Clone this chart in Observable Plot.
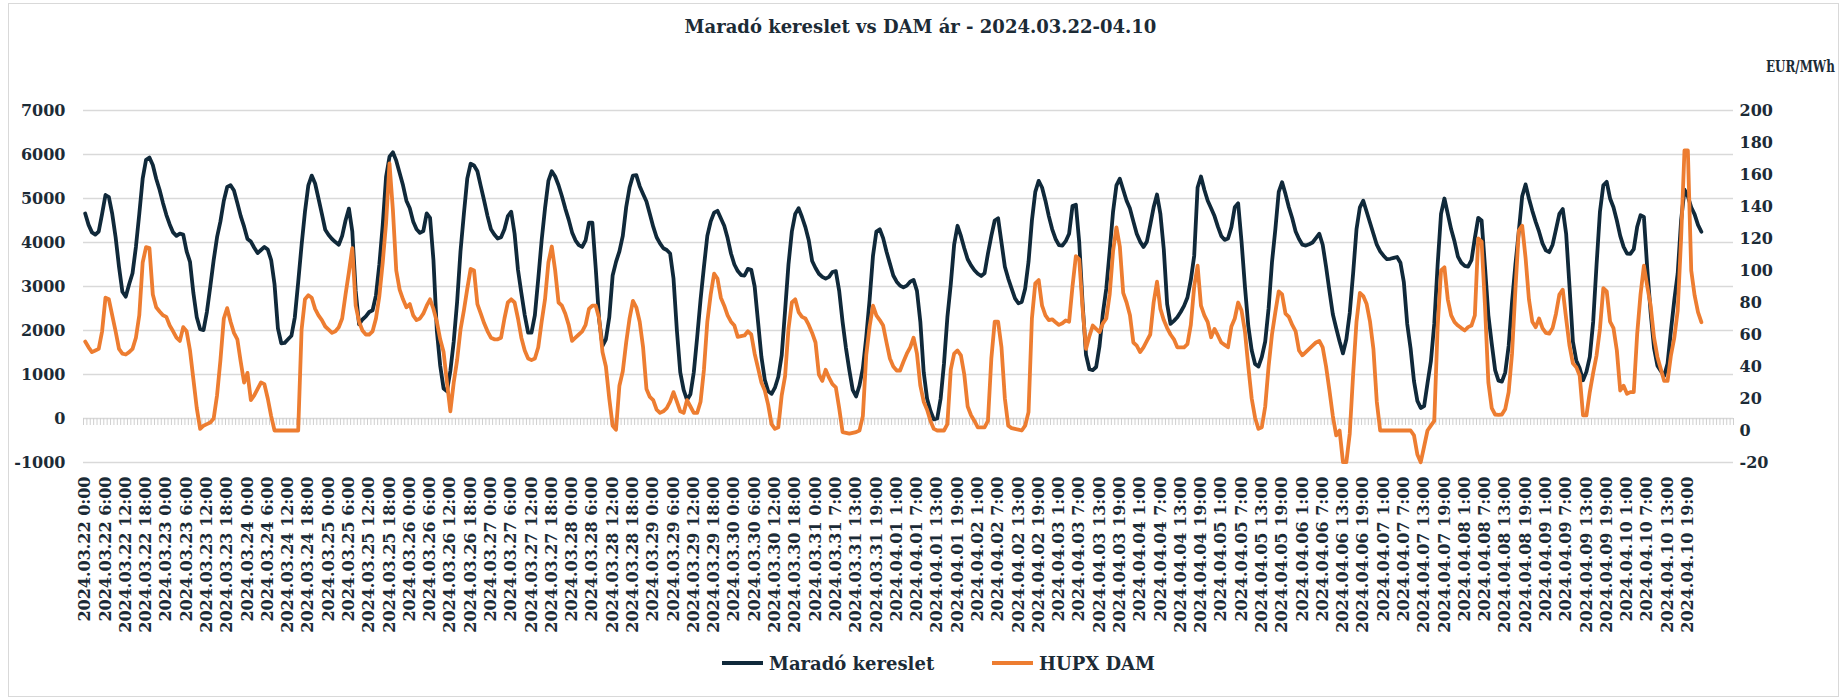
<!DOCTYPE html>
<html>
<head>
<meta charset="utf-8">
<script src="https://cdn.jsdelivr.net/npm/d3@7"></script>
<script src="https://cdn.jsdelivr.net/npm/@observablehq/plot@0.6"></script>
<style>
  html, body { margin: 0; padding: 0; background: #ffffff; }
  #wrap { position: relative; width: 1841px; height: 698px; overflow: hidden; font-family: "DejaVu Serif", serif; color: #1c2b36; }
  #frame { position: absolute; left: 8px; top: 3px; width: 1831px; height: 694px; border: 1px solid #d9d9d9; box-sizing: border-box; }
  #title { position: absolute; left: 0; top: 3px; width: 1841px; height: 47px; line-height: 47px; text-align: center; font-weight: bold; font-size: 18px; }
  #chart { position: absolute; left: 0; top: 48px; }
  #unit { position: absolute; left: 1766px; top: 56px; font-weight: bold; font-size: 17px; line-height: 20px; white-space: nowrap; transform: scaleX(0.7); transform-origin: left center; }
  .leg { position: absolute; top: 652px; height: 22px; display: flex; align-items: center; font-weight: bold; font-size: 18px; }
  .sw { display: inline-block; width: 41px; height: 4px; margin-right: 6px; }
</style>
</head>
<body>
<div id="wrap">
  <div id="frame"></div>
  <div id="title">Maradó kereslet vs DAM ár - 2024.03.22-04.10</div>
  <div id="unit">EUR/MWh</div>
  <div id="chart"></div>
  <div class="leg" style="left:722px"><span class="sw" style="background:#10293a"></span>Maradó kereslet</div>
  <div class="leg" style="left:992px"><span class="sw" style="background:#ed7d31"></span>HUPX DAM</div>
</div>
<script>
// ---- categories ----
const days = ["2024.03.22","2024.03.23","2024.03.24","2024.03.25","2024.03.26","2024.03.27","2024.03.28",
  "2024.03.29","2024.03.30","2024.03.31","2024.04.01","2024.04.02","2024.04.03","2024.04.04",
  "2024.04.05","2024.04.06","2024.04.07","2024.04.08","2024.04.09","2024.04.10"];
const skippedHour = "2024.03.31 2:00"; // DST change, no such hour
const timeLabels = [];
for (const d of days) for (let h = 0; h < 24; h++) { const s = `${d} ${h}:00`; if (s !== skippedHour) timeLabels.push(s); }

// ---- series: Maradó kereslet (left axis) ----
const demand = [
  4660,4400,4230,4180,4250,4650,5080,5030,4650,4120,3450,2880,2770,3050,3300,3900,4650,5450,5880,5930,5760,5450,5200,4900,
  4630,4410,4230,4150,4200,4180,3800,3560,2850,2300,2030,2010,2425,3000,3600,4120,4480,4950,5260,5300,5180,4900,4600,4360,
  4080,4020,3880,3760,3830,3900,3840,3600,3050,2050,1710,1720,1800,1880,2300,3100,3940,4700,5300,5520,5340,5000,4650,4290,
  4170,4080,4010,3950,4150,4500,4770,4250,2900,2140,2250,2320,2420,2460,2800,3500,4400,5500,5950,6050,5860,5580,5300,4950,
  4780,4480,4300,4220,4260,4660,4560,3600,2000,1200,680,620,1080,1750,2650,3800,4650,5450,5790,5750,5620,5280,4950,4600,
  4300,4180,4090,4120,4300,4600,4700,4200,3380,2850,2350,1950,1950,2350,3180,4050,4780,5400,5620,5500,5300,5050,4770,4520,
  4230,4050,3940,3900,4050,4450,4450,3410,2250,1650,1800,2300,3250,3560,3800,4150,4800,5250,5520,5530,5280,5100,4930,4650,
  4360,4120,3980,3870,3830,3750,3180,2000,1050,650,420,550,1050,1850,2700,3450,4150,4480,4680,4720,4550,4380,4100,3750,
  3500,3350,3260,3250,3400,3380,3000,2200,1400,880,620,560,700,950,1440,2450,3500,4250,4650,4780,4580,4350,4050,3580,
  3420,3290,3220,3180,3220,3330,3350,2900,2200,1600,1100,650,500,750,1140,1850,2700,3700,4250,4300,4100,3790,3520,
  3250,3110,3020,2980,3020,3110,3150,2900,2200,1050,450,170,-20,0,450,1250,2300,3050,3950,4380,4150,3870,3620,3480,
  3370,3290,3240,3300,3750,4150,4500,4550,4000,3450,3180,2950,2730,2620,2650,2950,3560,4500,5150,5400,5250,4950,4600,4300,
  4080,3940,3930,4030,4200,4830,4860,4000,2600,1450,1120,1100,1170,1650,2400,2956,3800,4700,5300,5450,5200,4950,4770,4480,
  4200,4020,3900,4020,4400,4800,5090,4650,3850,2600,2150,2220,2300,2420,2560,2750,3150,3700,5250,5500,5200,4950,4780,4600,
  4360,4150,4060,4090,4350,4800,4890,4020,3000,2100,1550,1240,1180,1400,1750,2500,3550,4300,5150,5370,5100,4800,4550,4250,
  4080,3950,3930,3960,4000,4100,4200,3950,3450,2900,2370,2050,1750,1480,1800,2400,3300,4300,4800,4950,4700,4450,4200,3950,
  3800,3700,3620,3630,3650,3670,3540,3100,2150,1590,850,400,240,280,800,1300,2150,3500,4650,5000,4650,4300,4020,3680,
  3540,3470,3450,3600,4100,4560,4500,3450,2350,1700,1100,860,840,1050,1650,2650,3500,4250,5050,5320,5000,4720,4470,4245,
  3980,3820,3780,3950,4300,4650,4760,4200,3000,1750,1320,1140,870,1060,1400,2200,3500,4700,5300,5380,5000,4800,4500,4150,
  3900,3750,3740,3850,4350,4620,4580,3400,2400,1600,1200,1080,970,1250,2000,2700,3300,4500,5200,5050,4800,4640,4400,4245
];

// ---- series: HUPX DAM, EUR/MWh (right axis) ----
const price = [
  55.6,52,49,50,51,62,83,82,72,62,51,48,47.5,49,51,58,72,105,114.6,114,85,77,74.4,72,
  71,65.6,62,58,56,64.6,62,50,32,14,1,3,4,5,7.5,22,44,70,76.5,68,61,57,43,30,
  36,19,22,26,30,29,20,9,0,0,0,0,0,0,0,0,63,82,84.5,83,76,72,69,65,
  63,61,62,64.5,70,85,99,114,78,68,62.5,60,60,62,70,84,105,130,167,138,100,88,82,77,
  79,72,69,70,73,78,82,76,68,57,49,30,12,30,44,63,75,88.5,101,100,79,73,67,62,
  58,57,57,58,70,80,82,80,70,58,50,45,44,45,52,68,82,105,115,100,80,78,73,66,
  56,58,60,62,66,76,78,78,70,49,40,20,3,0.5,28,37,55,70,81,77,68,52,26,21,
  19,13,11,12,14,18,24,18,12,11,19,15,11,11,18,38,68,85,98,95,83,78,72,68,
  65.6,58.5,59,59.4,62,60,48,39,30,25,16,4,1,2,22,34,63.5,80,82,74,71,70,66,61,
  55,35,31,38,33,29,27,14,-1,-1.5,-2,-1.5,-1,0,9,47,65,78,72,69,65.6,55,45,
  40,37.5,37.5,43,48,52,58,48,28,18,13,6,1,0,0,0,4,38,48,50,47,35,15,9.5,
  6,2,2,2,6,45,68,68,52,20,3,1.5,1,0.5,0,3,11.5,70,92,94,78,72,69,69.5,
  67.7,66,67,68.75,68,90,109,107,76,51,59,65.6,63.5,61.5,67,70,85,112,127,115,86,80,72,55,
  53,49,52,56,60,80,93,76,69,64,60,57,52,52,52,54,66,90,103,78,72,67.7,58.3,63.5,
  59.4,55,53.5,52,65,70,80,75,62,40,20,8,1,2,15,40,60,74,87,85,73,71,66,62,
  50,47,49,51,53,55,56,52,40,25,9,-3,0,-19.8,-19.8,-2,35,68,86,84,79,68,51,18,
  0,0,0,0,0,0,0,0,0,0,-3,-15,-19.8,-10,0,3,6,65,100,102,82,72,67.7,65.6,
  64,62.5,64.6,65.6,72,120,118,78,30,14,10,9.8,10,13.5,24,48,88,125,128,108,82,68,64.6,70,
  64,61,60.5,64,73,85,88,70,53,42,39.6,34.4,9.4,9.4,24,36,47,63.5,89,87,68,64,50,25,
  28,23,24,24,60,85,103,90,78,58,46,38.5,31,31,47,58,75,120,175,175,100,84.4,74,67.7
];

// ---- axis ticks ----
const leftTicks = [-1000,0,1000,2000,3000,4000,5000,6000,7000];
const rightTicks = [-20,0,20,40,60,80,100,120,140,160,180,200];
const labelEvery = 6;

// map the secondary (price) axis onto the primary y scale: -20..200 <-> -1000..7000
const priceToY = p => -1000 + (p + 20) * 8000 / 220;
const yToPrice = v => Math.round((v + 1000) * 220 / 8000 - 20);

const rows = demand.map((v, i) => ({i, label: timeLabels[i], demand: v, price: price[i]}));
const nCats = 488; // category slots on the axis (data + trailing empty slots)
const catEdges = d3.range(nCats + 1).map(k => k - 0.5);
const tickIdx = d3.range(0, timeLabels.length, labelEvery);

const chart = Plot.plot({
  width: 1841,
  height: 592,
  marginTop: 62,
  marginBottom: 178,
  marginLeft: 83,
  marginRight: 108,
  x: {type: "linear", domain: [-0.5, nCats - 0.5], label: null},
  y: {domain: [-1000, 7000], label: null},
  style: {fontFamily: "'DejaVu Serif', serif", fontWeight: "bold", fontSize: "16px", color: "#1c2b36", background: "transparent", overflow: "visible"},
  marks: [
    Plot.ruleY(leftTicks, {stroke: "#d9d9d9", strokeWidth: 1.3}),
    Plot.ruleX(catEdges, {x: d => d, y1: 0, y2: 0, insetBottom: -7, stroke: "#cfcfcf", strokeWidth: 1}),
    Plot.axisY({anchor: "left", ticks: leftTicks, tickFormat: d => String(d), tickSize: 0, tickPadding: 18, label: null}),
    Plot.axisY({anchor: "right", ticks: rightTicks.map(priceToY), tickFormat: v => String(yToPrice(v)), tickSize: 0, tickPadding: 6, label: null}),
    Plot.axisX({anchor: "bottom", ticks: tickIdx, tickFormat: i => timeLabels[i], tickRotate: -90, tickSize: 0, tickPadding: 14, label: null}),
    Plot.lineY(rows, {x: "i", y: "demand", stroke: "#10293a", strokeWidth: 3.8, strokeLinejoin: "round"}),
    Plot.lineY(rows, {x: "i", y: d => priceToY(d.price), stroke: "#ed7d31", strokeWidth: 3.8, strokeLinejoin: "round"})
  ]
});
document.getElementById("chart").appendChild(chart);
</script>
</body>
</html>
